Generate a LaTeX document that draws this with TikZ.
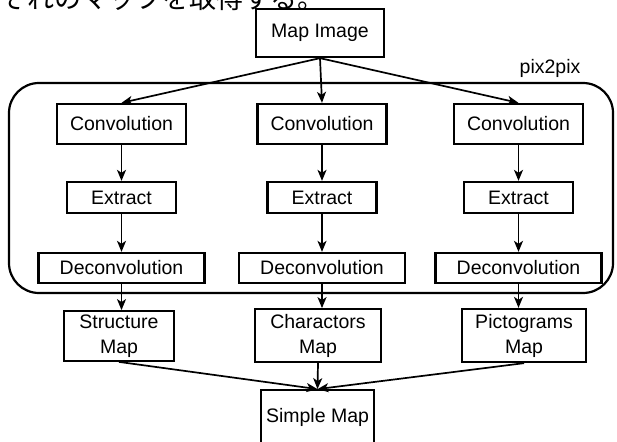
\documentclass[tikz,border=0pt]{standalone}
\usepackage{fontspec}
\setmainfont{Liberation Sans}
\newfontfamily\jpfont{Noto Sans CJK JP}
\usetikzlibrary{arrows.meta}

\begin{document}
\begin{tikzpicture}[x=1pt,y=-1pt,
    every node/.style={font=\fontsize{19.5}{25}\selectfont, align=center, inner sep=0pt},
    box/.style={draw, line width=2.3pt},
    mapbox/.style={draw, line width=1.8pt},
    flow/.style={-{Stealth[length=11pt,width=9pt,inset=3pt]}, line width=1.7pt}]
        \useasboundingbox (0,0) rectangle (617,441);
        \clip (0,0) rectangle (617,441);
        % line of text above, cut off at the top edge
        \node[anchor=south west, font=\jpfont\fontsize{27}{30}\selectfont, align=left] (intro) at (0,11) {ぞれのマップを取得する。};
        \node[box, minimum width=128pt, minimum height=48pt] (img) at (320,33) {Map Image};
        % pix2pix frame
        \draw[rounded corners=30pt, line width=2.2pt] (9,83) rectangle (613,293);
        \node[anchor=base] (p2p) at (550,74) {pix2pix};
        % three branches
        \foreach \x/\n in {121.5/l, 322/m, 518.5/r}{
            \node[box, minimum width=129pt, minimum height=40pt] (conv\n) at (\x,124) {Convolution};
            \node[box, minimum width=109pt, minimum height=31pt] (ext\n) at (\x,197.5) {Extract};
            \node[box, minimum width=166pt, minimum height=30pt] (dec\n) at (\x,268) {Deconvolution};
            \draw[flow] (img.south) -- (conv\n.north);
            \draw[flow] (conv\n) -- (ext\n);
            \draw[flow] (ext\n) -- (dec\n);
        }
        \node[mapbox, minimum width=110pt, minimum height=50pt] (strmap) at (119,336) {Structure\\Map};
        \node[mapbox, minimum width=126pt, minimum height=53pt] (chrmap) at (318,335.5) {Charactors\\Map};
        \node[box, minimum width=124pt, minimum height=53pt] (picmap) at (524,335.5) {Pictograms\\Map};
        \node[mapbox, minimum width=113pt, minimum height=54pt] (simple) at (317.5,417) {Simple Map};
        \draw[flow] (decl.south) -- (strmap.north -| decl.south);
        \draw[flow] (decm.south) -- (chrmap.north -| decm.south);
        \draw[flow] (decr.south) -- (picmap.north -| decr.south);
        \draw[flow] (strmap.south) -- (simple.north);
        \draw[flow] (chrmap.south) -- (simple.north);
        \draw[flow] (picmap.south) -- (simple.north);
\end{tikzpicture}
\end{document}
